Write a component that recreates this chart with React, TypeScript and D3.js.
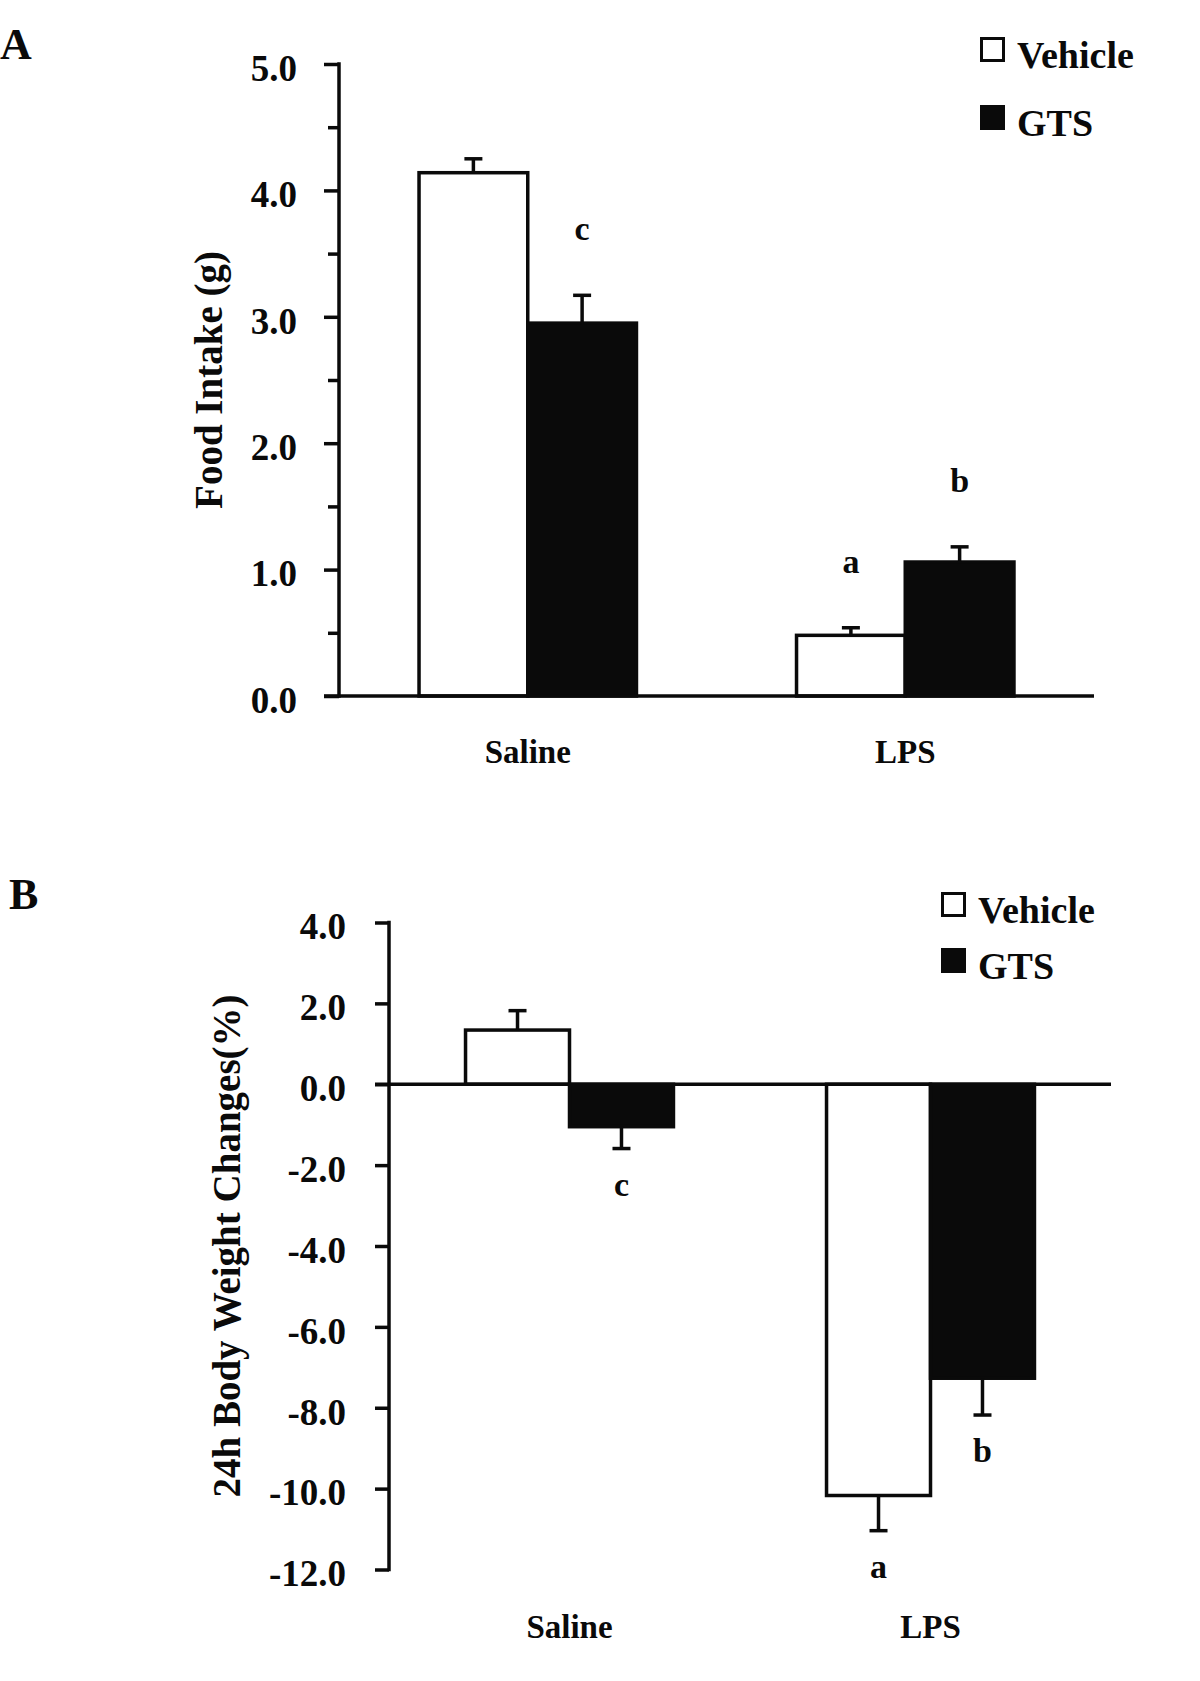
import React, { useEffect, useRef } from "react";
import * as d3 from "d3";

const groups = ["Saline", "LPS"];
const series = ["Vehicle", "GTS"];

// panel A: food intake (g), rows = groups, columns = series
const intakeMean = [
  [4.14, 2.95],
  [0.48, 1.06],
];
const intakeErr = [
  [0.11, 0.22],
  [0.06, 0.12],
];
const intakeLetters = [
  ["", "c"],
  ["a", "b"],
];
const intakeTicks = [0, 1, 2, 3, 4, 5];
const intakeMinor = [0.5, 1.5, 2.5, 3.5, 4.5];

// panel B: 24h body weight changes (%)
const weightMean = [
  [1.34, -1.05],
  [-10.17, -7.27],
];
const weightErr = [
  [0.48, 0.54],
  [0.87, 0.91],
];
const weightLetters = [
  ["", "c"],
  ["a", "b"],
];
const weightTicks = [4, 2, 0, -2, -4, -6, -8, -10, -12];

const FONT = "'Liberation Serif', 'Times New Roman', serif";
const INK = "#0a0a0a";

function drawPanel(svg, o) {
  const g = svg.append("g");
  const y = d3.scaleLinear().domain(o.domain).range([o.bottom, o.top]);
  const x0 = d3
    .scaleBand()
    .domain(groups)
    .range([o.left, o.right])
    .paddingInner(0.424)
    .paddingOuter(0.212);
  const x1 = d3.scaleBand().domain(series).range([0, x0.bandwidth()]);
  const color = d3.scaleOrdinal().domain(series).range(["#ffffff", INK]);

  const rows = groups.flatMap((grp, i) =>
    series.map((s, j) => ({ grp, s, v: o.mean[i][j], e: o.err[i][j], l: o.letters[i][j] }))
  );
  const end = (d) => (d.v >= 0 ? d.v + d.e : d.v - d.e);

  // bars
  g.append("g")
    .selectAll("rect")
    .data(rows)
    .join("rect")
    .attr("x", (d) => x0(d.grp) + x1(d.s))
    .attr("y", (d) => y(Math.max(0, d.v)))
    .attr("width", x1.bandwidth())
    .attr("height", (d) => Math.abs(y(d.v) - y(0)))
    .attr("fill", (d) => color(d.s))
    .attr("stroke", INK)
    .attr("stroke-width", 3.5);

  // error bars (one-sided)
  const eb = g.append("g").attr("stroke", INK).attr("stroke-width", 3.5);
  const cx = (d) => x0(d.grp) + x1(d.s) + x1.bandwidth() / 2;
  eb.selectAll("line.stem")
    .data(rows)
    .join("line")
    .attr("class", "stem")
    .attr("x1", cx)
    .attr("x2", cx)
    .attr("y1", (d) => y(d.v))
    .attr("y2", (d) => y(end(d)));
  eb.selectAll("line.cap")
    .data(rows)
    .join("line")
    .attr("class", "cap")
    .attr("x1", (d) => cx(d) - 9)
    .attr("x2", (d) => cx(d) + 9)
    .attr("y1", (d) => y(end(d)))
    .attr("y2", (d) => y(end(d)));

  // significance letters
  g.append("g")
    .selectAll("text")
    .data(rows.filter((d) => d.l))
    .join("text")
    .attr("x", cx)
    .attr("y", (d) => (d.v >= 0 ? y(end(d)) - o.letterGap : y(end(d)) + o.letterGap))
    .attr("text-anchor", "middle")
    .attr("font-family", FONT)
    .attr("font-weight", "bold")
    .attr("font-size", 34)
    .attr("fill", INK)
    .text((d) => d.l);

  // y axis
  const axis = d3
    .axisLeft(y)
    .tickValues(o.ticks)
    .tickSize(o.tick)
    .tickPadding(o.pad)
    .tickFormat((d) => d.toFixed(1));
  const ax = g
    .append("g")
    .attr("transform", `translate(${o.left},0)`)
    .call(axis)
    .attr("font-family", FONT)
    .attr("font-size", 37)
    .attr("font-weight", "bold");
  ax.select(".domain").remove();
  ax.selectAll(".tick line").attr("stroke", INK).attr("stroke-width", 3.5);
  ax.selectAll(".tick text").attr("fill", INK).attr("dy", "0.44em");
  if (o.minor) {
    const mx = g
      .append("g")
      .attr("transform", `translate(${o.left},0)`)
      .call(d3.axisLeft(y).tickValues(o.minor).tickSize(11).tickFormat(() => ""));
    mx.select(".domain").remove();
    mx.selectAll(".tick line").attr("stroke", INK).attr("stroke-width", 3.5);
  }
  g.append("line")
    .attr("x1", o.left)
    .attr("x2", o.left)
    .attr("y1", o.top - 1.75)
    .attr("y2", o.bottom + 1.75)
    .attr("stroke", INK)
    .attr("stroke-width", 3.5);

  // zero line
  g.append("line")
    .attr("x1", o.left - o.tick)
    .attr("x2", o.right)
    .attr("y1", y(0))
    .attr("y2", y(0))
    .attr("stroke", INK)
    .attr("stroke-width", 3.5);

  // group labels
  g.append("g")
    .selectAll("text")
    .data(groups)
    .join("text")
    .attr("x", (d) => x0(d) + x0.bandwidth() / 2)
    .attr("y", o.labelY)
    .attr("text-anchor", "middle")
    .attr("font-family", FONT)
    .attr("font-weight", "bold")
    .attr("font-size", 33)
    .attr("fill", INK)
    .text((d) => d);

  // axis title
  g.append("text")
    .attr("transform", `translate(${o.titleX},${(o.top + o.bottom) / 2}) rotate(-90)`)
    .attr("text-anchor", "middle")
    .attr("font-family", FONT)
    .attr("font-weight", "bold")
    .attr("font-size", 39)
    .attr("fill", INK)
    .text(o.title);

  // panel letter
  g.append("text")
    .attr("x", o.panelX)
    .attr("y", o.panelY)
    .attr("font-family", FONT)
    .attr("font-weight", "bold")
    .attr("font-size", 44)
    .attr("fill", INK)
    .text(o.panel);

  // legend
  const lg = g
    .append("g")
    .selectAll("g")
    .data(series)
    .join("g")
    .attr("transform", (d, i) => `translate(${o.legendX},${o.legendY + i * o.legendGap})`);
  lg.append("rect")
    .attr("x", 1.5)
    .attr("y", 1.5)
    .attr("width", 22)
    .attr("height", 22)
    .attr("fill", (d) => color(d))
    .attr("stroke", INK)
    .attr("stroke-width", 3);
  lg.append("text")
    .attr("x", 37)
    .attr("y", 31)
    .attr("font-family", FONT)
    .attr("font-weight", "bold")
    .attr("font-size", 38)
    .attr("fill", INK)
    .text((d) => d);
}

export default function App() {
  const ref = useRef(null);

  useEffect(() => {
    const svg = d3.select(ref.current);
    svg.selectAll("*").remove();

    drawPanel(svg, {
      mean: intakeMean,
      err: intakeErr,
      letters: intakeLetters,
      ticks: intakeTicks,
      minor: intakeMinor,
      domain: [0, 5],
      top: 64,
      bottom: 696,
      left: 339,
      right: 1094,
      tick: 15,
      pad: 27,
      letterGap: 55,
      title: "Food Intake (g)",
      titleX: 222,
      labelY: 763,
      panel: "A",
      panelX: 0,
      panelY: 59,
      legendX: 980,
      legendY: 37,
      legendGap: 68,
    });

    drawPanel(svg, {
      mean: weightMean,
      err: weightErr,
      letters: weightLetters,
      ticks: weightTicks,
      minor: null,
      domain: [-12, 4],
      top: 922.5,
      bottom: 1569.5,
      left: 389,
      right: 1111,
      tick: 14,
      pad: 29,
      letterGap: 47,
      title: "24h Body Weight Changes(%)",
      titleX: 240,
      labelY: 1638,
      panel: "B",
      panelX: 9,
      panelY: 909,
      legendX: 941,
      legendY: 892,
      legendGap: 56,
    });
  }, []);

  return (
    <svg
      ref={ref}
      width={1200}
      height={1681}
      style={{ position: "absolute", left: 0, top: 0, background: "#fff" }}
    ></svg>
  );
}
